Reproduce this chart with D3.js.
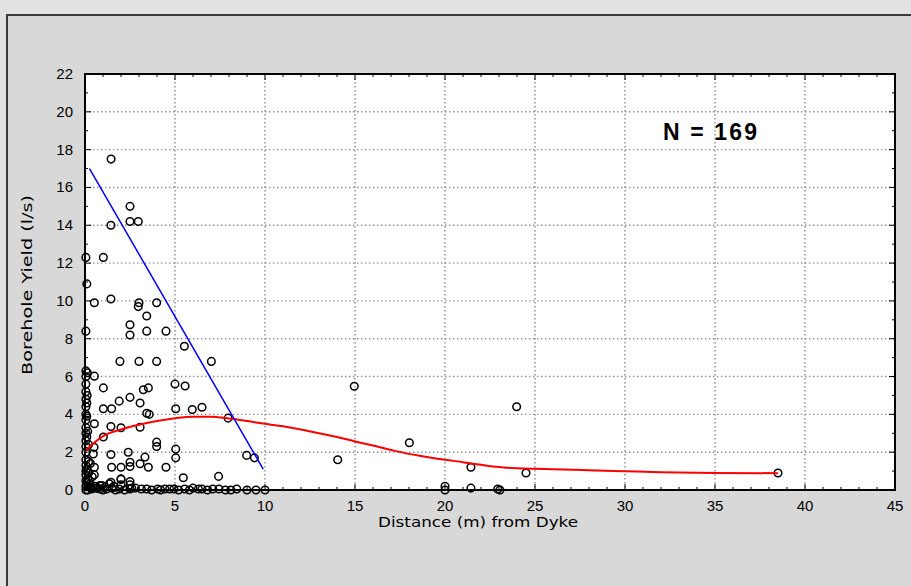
<!DOCTYPE html>
<html>
<head>
<meta charset="utf-8">
<script src="https://cdn.jsdelivr.net/npm/d3@7"></script>
<style>
  body { margin: 0; background: #dedede; }
  svg { display: block; }
</style>
</head>
<body>
<div id="chart"></div>
<script>
// Borehole yield vs distance from dyke
const distX = [
  1.45, 2.5, 2.5, 2.96, 1.44, 1.02, 0.05, 0.1, 0.52, 1.44, 3.0, 2.96, 3.98, 3.43, 2.5, 2.5, 3.43, 4.5, 0.05, 5.52,
  1.94, 3.0, 3.98, 7.02, 0.52, 0.13, 1.02, 3.24, 3.52, 5.0, 5.56, 2.5, 1.9, 3.06, 1.02, 1.48, 3.43, 3.57, 5.04, 5.96,
  6.5, 7.95, 0.52, 1.44, 2.0, 3.06, 1.02, 3.98, 3.98, 0.5, 5.04, 5.04, 1.44, 2.4, 0.46, 3.33, 8.98, 9.41, 1.48, 2.0,
  2.5, 2.5, 3.06, 3.52, 4.5, 0.52, 0.52, 5.46, 7.42, 2.0, 2.5, 1.44, 2.5, 1.35, 0.83, 0.28, 0.93, 2.0, 2.0,
  0.37, 0.83, 1.2, 1.9, 2.5, 3.13, 3.43, 4.04, 4.44, 4.94, 5.54, 6.3, 6.5, 7.44, 8.43, 10.0,
  0.15, 0.6, 1.0, 1.5, 1.7, 2.2, 2.8, 3.7, 4.2, 4.7, 5.2, 5.8, 6.0, 6.8, 7.1, 7.8, 8.1, 9.0, 9.5, 0.25,
  14.96, 14.04, 18.02, 23.98, 21.44, 24.5, 20.0, 21.44, 22.93, 23.05, 38.5, 20.0,
  0.05, 0.05, 0.05, 0.05, 0.05, 0.05, 0.05, 0.05, 0.05, 0.05, 0.05, 0.05, 0.05, 0.05, 0.05, 0.05, 0.05, 0.05, 0.05, 0.05,
  0.1, 0.15, 0.1, 0.2, 0.1, 0.15, 0.2, 0.1, 0.25, 0.1, 0.3, 0.12, 0.2, 0.35, 0.4, 0.55, 0.7, 1.1, 1.6, 2.6
];
const yieldY = [
  17.5, 15.0, 14.2, 14.2, 14.0, 12.3, 12.3, 10.9, 9.9, 10.1, 9.9, 9.7, 9.9, 9.2, 8.74, 8.2, 8.4, 8.4, 8.4, 7.6,
  6.8, 6.8, 6.8, 6.8, 6.02, 6.2, 5.4, 5.3, 5.4, 5.6, 5.5, 4.9, 4.7, 4.6, 4.3, 4.3, 4.06, 4.0, 4.3, 4.26,
  4.38, 3.8, 3.5, 3.36, 3.29, 3.32, 2.8, 2.53, 2.3, 2.26, 2.16, 1.7, 1.88, 2.0, 1.9, 1.74, 1.83, 1.7, 1.2, 1.2,
  1.24, 1.47, 1.39, 1.2, 1.2, 1.2, 0.8, 0.65, 0.72, 0.59, 0.45, 0.41, 0.27, 0.33, 0.24, 0.15, 0.24, 0.56, 0.27,
  0.05, 0.05, 0.05, 0.05, 0.05, 0.05, 0.05, 0.05, 0.05, 0.05, 0.05, 0.05, 0.05, 0.05, 0.05, 0.0,
  0.0, 0.1, 0.0, 0.1, 0.0, 0.0, 0.1, 0.0, 0.0, 0.05, 0.0, 0.0, 0.1, 0.0, 0.05, 0.0, 0.0, 0.0, 0.0, 0.3,
  5.49, 1.6, 2.5, 4.4, 1.2, 0.9, 0.2, 0.1, 0.05, 0.0, 0.9, 0.0,
  0.0, 0.2, 0.5, 0.8, 1.0, 1.3, 1.6, 2.0, 2.3, 2.6, 3.0, 3.3, 3.7, 4.0, 4.4, 4.8, 5.2, 5.6, 6.0, 6.3,
  0.4, 0.6, 1.1, 1.5, 2.8, 3.1, 0.9, 3.9, 0.5, 4.6, 1.4, 5.0, 2.4, 0.1, 0.7, 0.2, 0.1, 0.15, 0.2, 0.1
];

// linear fit (blue) and smoothed fit (red)
const fitX = [0.25, 9.9];
const fitY = [17.0, 1.1];
const smoothX = [0.05, 1, 2, 3, 4, 5, 6, 7, 8, 9, 10, 11, 12, 13, 14, 15, 16, 17, 18, 19, 20, 21, 22, 23, 24, 25, 26, 28, 30, 32, 35, 38.5];
const smoothY = [2.1, 2.85, 3.2, 3.45, 3.65, 3.8, 3.88, 3.88, 3.78, 3.65, 3.5, 3.37, 3.2, 3.0, 2.8, 2.57, 2.35, 2.12, 1.91, 1.75, 1.6, 1.47, 1.33, 1.21, 1.15, 1.12, 1.1, 1.04, 0.99, 0.94, 0.9, 0.89];

const xTicks = [0, 5, 10, 15, 20, 25, 30, 35, 40, 45];
const yTicks = [0, 2, 4, 6, 8, 10, 12, 14, 16, 18, 20, 22];

const width = 911;
const height = 586;
const margin = { top: 74, right: 16, bottom: 96, left: 85 };

const svg = d3.select("#chart")
  .append("svg")
  .attr("width", width)
  .attr("height", height);

// grey panel with dark frame
svg.append("rect")
  .attr("x", 0).attr("y", 0)
  .attr("width", width).attr("height", height)
  .attr("fill", "#e2e2e2");
svg.append("rect")
  .attr("x", 7).attr("y", 15)
  .attr("width", width + 10).attr("height", height)
  .attr("fill", "#d8d8d8")
  .attr("stroke", "#3a3a3a")
  .attr("stroke-width", 2);

const x = d3.scaleLinear()
  .domain([0, 45])
  .range([margin.left, width - margin.right]);

const y = d3.scaleLinear()
  .domain([0, 22])
  .range([height - margin.bottom, margin.top]);

const font = "Liberation Sans, Arial, sans-serif";
const titleFont = "DejaVu Sans, Verdana, sans-serif";

// plot background
svg.append("rect")
  .attr("x", x(0)).attr("y", y(22))
  .attr("width", x(45) - x(0)).attr("height", y(0) - y(22))
  .attr("fill", "#ffffff");

// dotted grid
const grid = svg.append("g")
  .attr("stroke", "#8a8a8a")
  .attr("stroke-width", 1.4)
  .attr("stroke-dasharray", "1.4,2.6");
grid.selectAll(".vx")
  .data(xTicks.slice(1, -1))
  .join("line")
  .attr("x1", d => x(d)).attr("x2", d => x(d))
  .attr("y1", y(22)).attr("y2", y(0));
grid.selectAll(".hy")
  .data(yTicks.slice(1, -1))
  .join("line")
  .attr("x1", x(0)).attr("x2", x(45))
  .attr("y1", d => y(d)).attr("y2", d => y(d));

// inward ticks on all four sides
const minorX = d3.range(0, 46, 1);
const minorY = d3.range(0, 23, 1);
const tickG = svg.append("g").attr("stroke", "#000").attr("stroke-width", 1);
tickG.selectAll(".tb")
  .data(minorX)
  .join("line")
  .attr("x1", d => x(d)).attr("x2", d => x(d))
  .attr("y1", y(0)).attr("y2", d => y(0) - (d % 5 === 0 ? 6 : 3));
tickG.selectAll(".tt")
  .data(minorX)
  .join("line")
  .attr("x1", d => x(d)).attr("x2", d => x(d))
  .attr("y1", y(22)).attr("y2", d => y(22) + (d % 5 === 0 ? 6 : 3));
tickG.selectAll(".tl")
  .data(minorY)
  .join("line")
  .attr("x1", x(0)).attr("x2", d => x(0) + (d % 2 === 0 ? 6 : 3))
  .attr("y1", d => y(d)).attr("y2", d => y(d));
tickG.selectAll(".tr")
  .data(minorY)
  .join("line")
  .attr("x1", x(45)).attr("x2", d => x(45) - (d % 2 === 0 ? 6 : 3))
  .attr("y1", d => y(d)).attr("y2", d => y(d));

// scatter points
const pts = distX.map((d, i) => ({ x: d, y: yieldY[i] }));
svg.append("g")
  .selectAll("circle")
  .data(pts)
  .join("circle")
  .attr("cx", d => x(d.x))
  .attr("cy", d => y(d.y))
  .attr("r", 3.8)
  .attr("fill", "none")
  .attr("stroke", "#000")
  .attr("stroke-width", 1.5);

const line = d3.line().x(d => x(d[0])).y(d => y(d[1]));

svg.append("path")
  .datum(smoothX.map((d, i) => [d, smoothY[i]]))
  .attr("d", line.curve(d3.curveMonotoneX))
  .attr("fill", "none")
  .attr("stroke", "#ff0000")
  .attr("stroke-width", 2);

svg.append("path")
  .datum(fitX.map((d, i) => [d, fitY[i]]))
  .attr("d", d3.line().x(d => x(d[0])).y(d => y(d[1])))
  .attr("fill", "none")
  .attr("stroke", "#0000ff")
  .attr("stroke-width", 1.5);

// frame of plot
svg.append("rect")
  .attr("x", x(0)).attr("y", y(22))
  .attr("width", x(45) - x(0)).attr("height", y(0) - y(22))
  .attr("fill", "none")
  .attr("stroke", "#000")
  .attr("stroke-width", 2);

// tick labels
svg.append("g")
  .selectAll("text")
  .data(xTicks)
  .join("text")
  .attr("x", d => x(d))
  .attr("y", y(0) + 21)
  .attr("text-anchor", "middle")
  .style("font-family", font)
  .style("font-size", "15px")
  .text(d => d);

svg.append("g")
  .selectAll("text")
  .data(yTicks)
  .join("text")
  .attr("x", x(0) - 12)
  .attr("y", d => y(d) + 5)
  .attr("text-anchor", "end")
  .style("font-family", font)
  .style("font-size", "15px")
  .text(d => d);

// axis titles
svg.append("text")
  .attr("x", 478)
  .attr("y", 527)
  .attr("text-anchor", "middle")
  .attr("textLength", 200)
  .attr("lengthAdjust", "spacingAndGlyphs")
  .style("font-family", titleFont)
  .style("font-size", "14px")
  .text("Distance (m) from Dyke");

svg.append("text")
  .attr("transform", "rotate(-90)")
  .attr("x", -285)
  .attr("y", 32)
  .attr("text-anchor", "middle")
  .attr("textLength", 180)
  .attr("lengthAdjust", "spacingAndGlyphs")
  .style("font-family", titleFont)
  .style("font-size", "14px")
  .text("Borehole Yield (l/s)");

// sample size note
svg.append("text")
  .attr("x", 663)
  .attr("y", 140)
  .attr("textLength", 94)
  .attr("lengthAdjust", "spacing")
  .style("font-family", font)
  .style("font-size", "23px")
  .style("font-weight", "bold")
  .text("N = 169");
</script>
</body>
</html>
